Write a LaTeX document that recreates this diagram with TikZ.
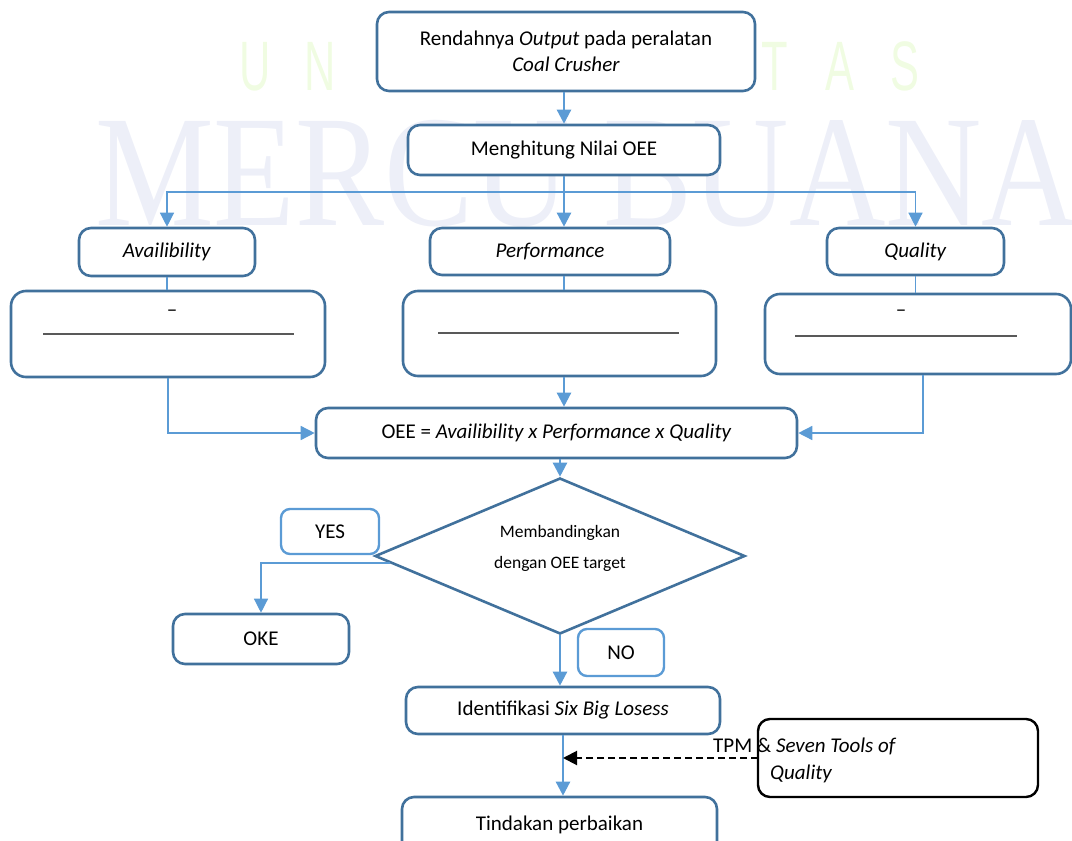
\documentclass[tikz,border=0pt]{standalone}
\usepackage{fontspec}
\setmainfont{Carlito}
\newfontfamily\markserif{Liberation Serif}
\newfontfamily\marksans{Liberation Sans}
\usetikzlibrary{arrows.meta, positioning, shapes.geometric, calc}
\definecolor{boxblue}{HTML}{41719C}
\definecolor{lineblue}{HTML}{5B9BD5}
\definecolor{rulegray}{HTML}{595959}
\definecolor{markgreen}{HTML}{F0FCE2}
\definecolor{markblue}{HTML}{EDEFF8}
\newcommand{\problemtext}{Rendahnya \textit{Output} pada peralatan \\ \textit{Coal Crusher}}
\newcommand{\oeetext}{OEE = \textit{Availibility x Performance x Quality}}
\newcommand{\comparetext}{Membandingkan \\ dengan OEE target}
\newcommand{\tooltext}{\hspace*{-57pt}TPM \& \textit{Seven Tools of} \\ \textit{Quality}}

\begin{document}
\begin{tikzpicture}[x=1pt, y=-1pt,
  box/.style={draw=boxblue, line width=2.6pt, rounded corners=12pt, fill=white, inner sep=0pt, align=center, font=\fontsize{21}{26}\selectfont},
  tag/.style={draw=lineblue, line width=2.4pt, rounded corners=9pt, fill=white, inner sep=0pt, font=\fontsize{21}{26}\selectfont},
  choice/.style={diamond, draw=boxblue, line width=2.6pt, fill=white, aspect=2.37, inner sep=0pt},
  link/.style={draw=lineblue, line width=2.4pt, -{Triangle[width=14pt, length=14pt]}},
  thinlink/.style={draw=lineblue, line width=1.3pt, -{Triangle[width=14pt, length=14pt]}},
  stem/.style={draw=lineblue, line width=1.1pt},
  rule/.style={draw=rulegray, line width=1.3pt},
  hint/.style={draw=black, dash pattern=on 7pt off 4pt, line width=2pt, -{Triangle[width=14pt, length=14pt]}}]
  \useasboundingbox (0,0) rectangle (1072,841);

  %faint watermark behind the chart
  \foreach \ch [count=\i from 0] in {U,N,I,V,E,R,S,I,T,A,S}
    \draw (255+65*\i, 90) node[anchor=base, text=markgreen, xscale=0.62, font=\fontsize{70}{70}\selectfont\marksans] {\ch};
  \draw (95,225) node[anchor=base west, text=markblue, xscale=0.84, inner sep=0pt, font=\fontsize{159}{159}\selectfont\markserif] (mark) {MERCU BUANA};

  %Make nodes for the steps
  \draw (566,51.5) node[box, minimum width=378pt, minimum height=79pt] (top) {\problemtext};
  \draw (564,150) node[box, minimum width=312pt, minimum height=50pt] (count) {Menghitung Nilai OEE};
  \draw (167,252) node[box, minimum width=176pt, minimum height=48pt] (avail) {\textit{Availibility}};
  \draw (550,251.5) node[box, minimum width=240pt, minimum height=47pt] (perf) {\textit{Performance}};
  \draw (915.5,251.5) node[box, minimum width=177pt, minimum height=47pt] (qual) {\textit{Quality}};
  \draw (168,334) node[box, rounded corners=15pt, minimum width=314pt, minimum height=86pt] (formA) {};
  \draw (559.5,333.5) node[box, rounded corners=15pt, minimum width=313pt, minimum height=85pt] (formP) {};
  \draw (918,334) node[box, rounded corners=15pt, minimum width=306pt, minimum height=80pt] (formQ) {};
  \draw (556.5,433) node[box, minimum width=481pt, minimum height=50pt] (oee) {\oeetext};
  \draw (560,556) node[choice, minimum width=370pt, minimum height=156pt,
    label={[align=center, yshift=8pt, font=\fontsize{17.5}{31}\selectfont]center:\comparetext}] (dec) {};
  \draw (330,531.5) node[tag, minimum width=98pt, minimum height=45pt] (yes) {YES};
  \draw (261,639) node[box, minimum width=176pt, minimum height=50pt] (oke) {OKE};
  \draw (621,652.5) node[tag, minimum width=86pt, minimum height=47pt] (no) {NO};
  \draw (563,710.5) node[box, minimum width=314pt, minimum height=47pt] (ident) {Identifikasi \textit{Six Big Losess}};
  \draw (559.5,825) node[box, minimum width=315pt, minimum height=56pt] (fix) {Tindakan perbaikan};

  %empty formula lines inside the three boxes
  \draw (172,313) node[font=\fontsize{21}{26}\selectfont] (dashA) {--};
  \draw (901,313) node[font=\fontsize{21}{26}\selectfont] (dashQ) {--};
  \draw[rule] (43,334) -- (294,334);
  \draw[rule] (438,333) -- (679,333);
  \draw[rule] (795,336) -- (1017,336);

  %arrows between steps
  \path (top.south -| count.north) edge[link] (count.north);
  \path (count.south) edge[link] (count.south |- perf.north);
  \coordinate (fork) at (564,192);
  \draw[thinlink] (fork) -| (avail.north);
  \draw[thinlink] (fork) -| (qual.north);
  \path (avail.south) edge[stem] (avail.south |- formA.north);
  \path (count.south |- perf.south) edge[stem] (count.south |- formP.north);
  \path (qual.south) edge[stem] (qual.south |- formQ.north);
  \draw[link, line width=1.5pt] (formA.south) |- (oee.west);
  \path (count.south |- formP.south) edge[link] (count.south |- oee.north);
  \draw[link, line width=1.5pt] ($(formQ.south)+(5,0)$) |- (oee.east);
  \path (dec.north |- oee.south) edge[link] (dec.north);
  \coordinate (yesout) at ($(dec.west)!0.09!(dec.south)$);
  \draw[thinlink] (yesout) -| (oke.north);
  \path (dec.south) edge[link] (dec.south |- ident.north);
  \path (ident.south) edge[link] (ident.south |- fix.north);

  %side input
  \path (758,758) edge[hint] (ident.south |- 758,758);
  \draw (898,758) node[draw=black, line width=2.4pt, rounded corners=12pt, fill=white, minimum width=280pt, minimum height=78pt] (tpm) {};
  \draw (770,738) node[anchor=north west, align=left, inner sep=0pt, font=\fontsize{21}{27}\selectfont] (tpmtext) {\tooltext};
\end{tikzpicture}
\end{document}
